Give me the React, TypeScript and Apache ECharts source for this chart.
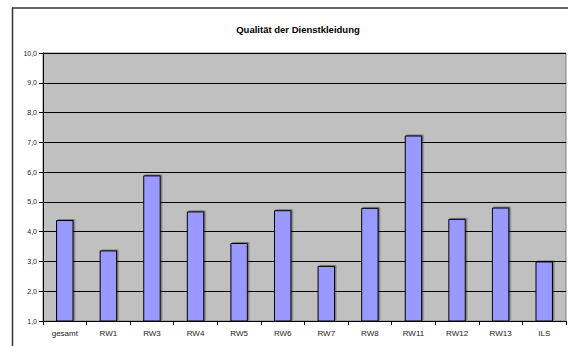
import React, { useEffect, useRef } from "react";
import * as echarts from "echarts";

const categories = ["gesamt", "RW1", "RW3", "RW4", "RW5", "RW6", "RW7", "RW8", "RW11", "RW12", "RW13", "ILS"];
const values = [4.39, 3.37, 5.89, 4.68, 3.62, 4.72, 2.85, 4.8, 7.23, 4.43, 4.81, 3.0];
const titleText = "Qualität der Dienstkleidung";

export default function App() {
  const ref = useRef<HTMLDivElement>(null);
  useEffect(() => {
    if (!ref.current) return;
    const chart = echarts.init(ref.current, null, { renderer: "svg" });
    chart.setOption({
      animation: false,
      backgroundColor: "#ffffff",
      textStyle: { fontFamily: "Liberation Sans, Arial, sans-serif" },
      title: {
        text: titleText,
        left: 293,
        top: 19,
        textAlign: "center",
        textStyle: { fontSize: 9.5, fontWeight: "bold", color: "#000", fontFamily: "Liberation Sans, Arial, sans-serif" },
      },
      graphic: [
        { type: "line", shape: { x1: 12, y1: 8, x2: 568, y2: 8 }, style: { stroke: "#333", lineWidth: 1.5 } },
        { type: "line", shape: { x1: 12.5, y1: 8, x2: 12.5, y2: 346 }, style: { stroke: "#333", lineWidth: 1.5 } },
      ],
      grid: {
        left: 43,
        top: 53,
        right: 2,
        bottom: 25,
        show: true,
        backgroundColor: "#C0C0C0",
        borderColor: "#808080",
        borderWidth: 1,
      },
      xAxis: {
        type: "category",
        data: categories,
        boundaryGap: true,
        axisLine: { show: true, lineStyle: { color: "#000", width: 1 } },
        axisTick: { show: true, alignWithLabel: false, length: 4, lineStyle: { color: "#000" } },
        axisLabel: { fontSize: 8, color: "#222", margin: 8, interval: 0 },
        splitLine: { show: false },
      },
      yAxis: {
        type: "value",
        min: 1,
        max: 10,
        interval: 1,
        axisLine: { show: true, lineStyle: { color: "#000", width: 1 } },
        axisTick: { show: true, length: 4, lineStyle: { color: "#000" } },
        axisLabel: {
          fontSize: 7,
          color: "#222",
          margin: 6,
          formatter: (v: number) => v.toFixed(1).replace(".", ","),
        },
        splitLine: { show: true, lineStyle: { color: "#000", width: 1 } },
      },
      series: [
        {
          type: "bar",
          data: values,
          barWidth: "40%",
          itemStyle: {
            color: "#9999FF",
            borderColor: "#000",
            borderWidth: 1,
            shadowColor: "rgba(0,0,0,0.35)",
            shadowOffsetX: 1.5,
            shadowOffsetY: -1,
            shadowBlur: 0,
          },
        },
      ],
    });
    return () => chart.dispose();
  }, []);
  return (
    <div
      ref={ref}
      style={{ position: "fixed", left: 0, top: 0, width: 568, height: 346 }}
    />
  );
}
